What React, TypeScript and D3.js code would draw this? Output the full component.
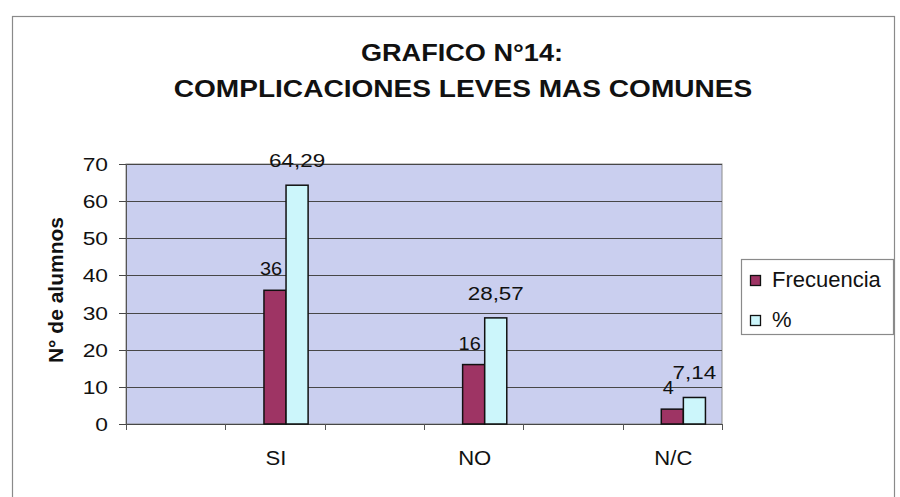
import React, { useEffect, useRef } from "react";
import * as d3 from "d3";

// values
const categories = ["SI", "NO", "N/C"];
const frecuencia = [36, 16, 4];
const porcentaje = [64.29, 28.57, 7.14];
const seriesNames = ["Frecuencia", "%"];
const seriesColors = ["#9e3464", "#ccf6fb"];
const yTicks = [0, 10, 20, 30, 40, 50, 60, 70];
const titleLines = ["GRAFICO N°14:", "COMPLICACIONES LEVES MAS COMUNES"];
const yTitle = "N° de alumnos";

const FONT = "'Liberation Sans', Arial, sans-serif";

const App = () => {
  const ref = useRef<SVGSVGElement>(null);

  useEffect(() => {
    const svg = d3.select(ref.current);
    svg.selectAll("*").remove();

    const width = 900;
    const height = 497;
    const margin = { top: 164, right: 178, bottom: 73, left: 126 };

    // the sheet had an empty column between categories, so the axis shows 6 slots
    const slots = categories.flatMap((c) => ["", c]);
    const xScale = d3
      .scaleBand<number>()
      .domain(d3.range(slots.length))
      .range([margin.left, width - margin.right]);
    // empty series slot in front of each pair (that is why bars sit right of centre)
    const inner = d3
      .scaleBand<string>()
      .domain(["", ...seriesNames])
      .range([0, xScale.bandwidth()])
      .paddingInner(0)
      .paddingOuter(0.75);
    const yScale = d3
      .scaleLinear()
      .domain([0, 70])
      .range([height - margin.bottom, margin.top]);

    // stretched text helper (the scan is a bit wider than tall)
    const label = (g, x, y, txt, size, sx, anchor, weight = "normal") =>
      g
        .append("text")
        .attr("transform", `translate(${x},${y}) scale(${sx},1)`)
        .attr("text-anchor", anchor)
        .attr("font-family", FONT)
        .attr("font-size", size)
        .attr("font-weight", weight)
        .attr("fill", "#111")
        .text(txt);

    // outer chart frame
    svg
      .append("rect")
      .attr("x", 12.5)
      .attr("y", 16.5)
      .attr("width", 882)
      .attr("height", 500)
      .attr("fill", "#fff")
      .attr("stroke", "#8a8a8a")
      .attr("stroke-width", 1.2);

    // title
    label(svg, 462, 61, titleLines[0], 24, 1.13, "middle", "bold");
    label(svg, 463, 97, titleLines[1], 24, 1.17, "middle", "bold");

    // plot area
    const [x0, x1] = xScale.range();
    const [yb, yt] = yScale.range();
    svg
      .append("rect")
      .attr("x", x0)
      .attr("y", yt)
      .attr("width", x1 - x0)
      .attr("height", yb - yt)
      .attr("fill", "#cacfef")
      .attr("stroke", "#8c8c8c");

    // gridlines + y ticks
    const yAxis = svg.append("g");
    yTicks.forEach((t) => {
      const y = Math.round(yScale(t)) + 0.5;
      yAxis
        .append("line")
        .attr("x1", x0 - 7)
        .attr("x2", x1)
        .attr("y1", y)
        .attr("y2", y)
        .attr("stroke", "#474747")
        .attr("stroke-width", 1.1);
      label(yAxis, x0 - 18, y + 6.5, String(t), 19, 1.2, "end");
    });
    yAxis
      .append("line")
      .attr("x1", x0 + 0.5)
      .attr("x2", x0 + 0.5)
      .attr("y1", yt)
      .attr("y2", yb)
      .attr("stroke", "#555");

    // y title
    svg
      .append("text")
      .attr("transform", `translate(63,290) rotate(-90)`)
      .attr("text-anchor", "middle")
      .attr("font-family", FONT)
      .attr("font-size", 21)
      .attr("font-weight", "bold")
      .attr("fill", "#111")
      .text(yTitle);

    // x axis ticks at slot boundaries
    const xAxis = svg.append("g");
    d3.range(slots.length + 1).forEach((i) => {
      const x = Math.round(x0 + i * xScale.step()) + 0.5;
      xAxis
        .append("line")
        .attr("x1", x)
        .attr("x2", x)
        .attr("y1", yb)
        .attr("y2", yb + 6)
        .attr("stroke", "#555");
    });
    slots.forEach((s, i) => {
      if (!s) return;
      label(xAxis, xScale(i) + xScale.bandwidth() / 2 + 1, 465, s, 21, 1.05, "middle");
    });

    // bars
    const rows = categories.map((c, i) => ({
      slot: i * 2 + 1,
      values: [frecuencia[i], porcentaje[i]],
    }));
    const fmt = (v) => String(v).replace(".", ",");
    rows.forEach((r) => {
      r.values.forEach((v, k) => {
        const bx = xScale(r.slot) + inner(seriesNames[k]);
        svg
          .append("rect")
          .attr("x", bx)
          .attr("y", yScale(v))
          .attr("width", inner.bandwidth())
          .attr("height", yScale(0) - yScale(v))
          .attr("fill", seriesColors[k])
          .attr("stroke", "#111")
          .attr("stroke-width", 1.5);
      });
      // data labels
      r.values.forEach((v, k) => {
        const cx = xScale(r.slot) + inner(seriesNames[k]) + inner.bandwidth() / 2 - (k === 0 ? 4 : 0);
        const dy = k === 0 ? 15 : 18;
        label(svg, cx, yScale(v) - dy, fmt(v), 19, k === 0 ? 1.05 : 1.18, "middle");
      });
    });

    // legend
    const legend = svg.append("g");
    legend
      .append("rect")
      .attr("x", 741.5)
      .attr("y", 259.5)
      .attr("width", 152)
      .attr("height", 75)
      .attr("fill", "#fff")
      .attr("stroke", "#8a8a8a")
      .attr("stroke-width", 1.2);
    seriesNames.forEach((name, k) => {
      const y = 275 + k * 40;
      legend
        .append("rect")
        .attr("x", 750.5)
        .attr("y", y + 0.5)
        .attr("width", 10)
        .attr("height", 10)
        .attr("fill", seriesColors[k])
        .attr("stroke", "#111")
        .attr("stroke-width", 1.3);
      legend
        .append("text")
        .attr("x", 772)
        .attr("y", y + 11.5)
        .attr("font-family", FONT)
        .attr("font-size", 22)
        .attr("fill", "#111")
        .text(name);
    });
  }, []);

  return (
    <svg
      ref={ref}
      width={900}
      height={497}
      style={{ position: "absolute", left: 0, top: 0, background: "#fff" }}
    />
  );
};

export default App;
